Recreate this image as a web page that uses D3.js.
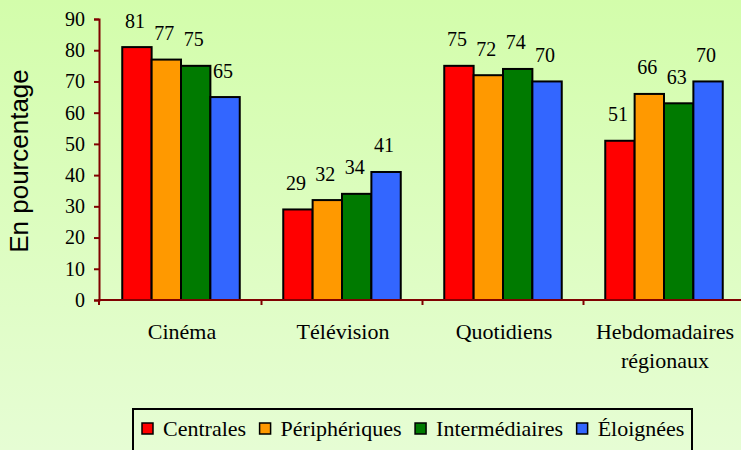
<!DOCTYPE html>
<html>
<head>
<meta charset="utf-8">
<script src="https://cdn.jsdelivr.net/npm/d3@7"></script>
<style>
  html, body { margin: 0; padding: 0; overflow: hidden; }
  svg { display: block; }
</style>
</head>
<body>
<script>
var categories = [["Cinéma"], ["Télévision"], ["Quotidiens"], ["Hebdomadaires", "régionaux"]];
var seriesNames = ["Centrales", "Périphériques", "Intermédiaires", "Éloignées"];
var seriesColors = ["#ff0000", "#ff9900", "#007a00", "#3366ff"];
var centrales = [81, 29, 75, 51];
var peripheriques = [77, 32, 72, 66];
var intermediaires = [75, 34, 74, 63];
var eloignees = [65, 41, 70, 70];
var yTicks = [0, 10, 20, 30, 40, 50, 60, 70, 80, 90];

var seriesValues = [centrales, peripheriques, intermediaires, eloignees];

var width = 741, height = 450,
    axisLeft = 99, axisBottom = 300;

var svg = d3.select("body").append("svg")
    .attr("width", width)
    .attr("height", height);

var grad = svg.append("defs").append("linearGradient")
    .attr("id", "bg")
    .attr("x1", 0).attr("y1", 0).attr("x2", 0).attr("y2", 1);
grad.append("stop").attr("offset", "0%").attr("stop-color", "#d3fdab");
grad.append("stop").attr("offset", "100%").attr("stop-color", "#e6fdd4");

svg.append("rect")
    .attr("width", width).attr("height", height)
    .attr("fill", "url(#bg)");

var x0 = d3.scaleBand()
    .domain(d3.range(categories.length))
    .range([100.5, 744.5]);

var x1 = d3.scaleBand()
    .domain(d3.range(seriesNames.length))
    .range([0, 117.5]);

var y = d3.scaleLinear()
    .domain([0, 90])
    .range([axisBottom, 19]);

// bars
var groups = svg.append("g").selectAll("g")
    .data(categories)
    .enter().append("g")
    .attr("transform", function (d, i) {
        return "translate(" + (x0(i) + (x0.bandwidth() - 117.5) / 2) + ",0)";
    });

groups.selectAll("rect")
    .data(function (d, i) { return seriesValues.map(function (s, j) { return { s: j, v: s[i] }; }); })
    .enter().append("rect")
    .attr("x", function (d) { return x1(d.s); })
    .attr("y", function (d) { return y(d.v); })
    .attr("width", x1.bandwidth())
    .attr("height", function (d) { return axisBottom - y(d.v); })
    .attr("fill", function (d) { return seriesColors[d.s]; })
    .attr("stroke", "#000")
    .attr("stroke-width", 2);

groups.selectAll("text")
    .data(function (d, i) { return seriesValues.map(function (s, j) { return { s: j, v: s[i] }; }); })
    .enter().append("text")
    .attr("x", function (d) { return x1(d.s) + x1.bandwidth() / 2 - 2; })
    .attr("y", function (d) { return y(d.v) - 19.5; })
    .attr("text-anchor", "middle")
    .style("font-family", "'Liberation Serif', 'Times New Roman', serif")
    .style("font-size", "20px")
    .style("fill", "#000")
    .text(function (d) { return d.v; });

// y axis
var yAxis = svg.append("g")
    .attr("transform", "translate(" + axisLeft + ",0)")
    .call(d3.axisLeft(y).tickValues(yTicks).tickSize(5).tickPadding(9));
yAxis.select(".domain").attr("stroke", "#800000").attr("stroke-width", 2);
yAxis.selectAll(".tick line").attr("stroke", "#800000").attr("stroke-width", 2);
yAxis.selectAll(".tick text")
    .style("font-family", "'Liberation Serif', 'Times New Roman', serif")
    .style("font-size", "20px")
    .style("fill", "#000");

// x axis line and category ticks
var xAxis = svg.append("g");
xAxis.append("line")
    .attr("x1", axisLeft - 1).attr("x2", width)
    .attr("y1", axisBottom).attr("y2", axisBottom)
    .attr("stroke", "#800000").attr("stroke-width", 2);
xAxis.selectAll("line.tick")
    .data(d3.range(categories.length))
    .enter().append("line")
    .attr("class", "tick")
    .attr("x1", function (i) { return i === 0 ? axisLeft : x0(i); })
    .attr("x2", function (i) { return i === 0 ? axisLeft : x0(i); })
    .attr("y1", axisBottom).attr("y2", axisBottom + 5)
    .attr("stroke", "#800000").attr("stroke-width", 2);

var catLabels = xAxis.selectAll("text")
    .data(categories)
    .enter().append("text")
    .attr("text-anchor", "middle")
    .attr("transform", function (d, i) {
        return "translate(" + (x0(i) + x0.bandwidth() / 2 + 1) + ",339)";
    })
    .style("font-family", "'Liberation Serif', 'Times New Roman', serif")
    .style("font-size", "22px")
    .style("fill", "#000");
catLabels.selectAll("tspan")
    .data(function (d) { return d; })
    .enter().append("tspan")
    .attr("x", 0)
    .attr("dy", function (d, i) { return i === 0 ? 0 : 29; })
    .text(function (d) { return d; });

// y title
svg.append("text")
    .attr("transform", "translate(28,161) rotate(-90)")
    .attr("text-anchor", "middle")
    .style("font-family", "'Liberation Sans', Arial, sans-serif")
    .style("font-size", "26px")
    .style("fill", "#000")
    .text("En pourcentage");

// legend
var legend = svg.append("g");
legend.append("rect")
    .attr("x", 133).attr("y", 409)
    .attr("width", 559).attr("height", 60)
    .attr("fill", "none")
    .attr("stroke", "#000")
    .attr("stroke-width", 2);

var lx = 142;
seriesNames.forEach(function (name, i) {
    legend.append("rect")
        .attr("x", lx).attr("y", 423)
        .attr("width", 11).attr("height", 11)
        .attr("fill", seriesColors[i])
        .attr("stroke", "#000")
        .attr("stroke-width", 1.5);
    var t = legend.append("text")
        .attr("x", lx + 21).attr("y", 436)
        .style("font-family", "'Liberation Serif', 'Times New Roman', serif")
        .style("font-size", "22px")
        .style("fill", "#000")
        .text(name);
    lx += 21 + t.node().getComputedTextLength() + 13.5;
});
</script>
</body>
</html>
